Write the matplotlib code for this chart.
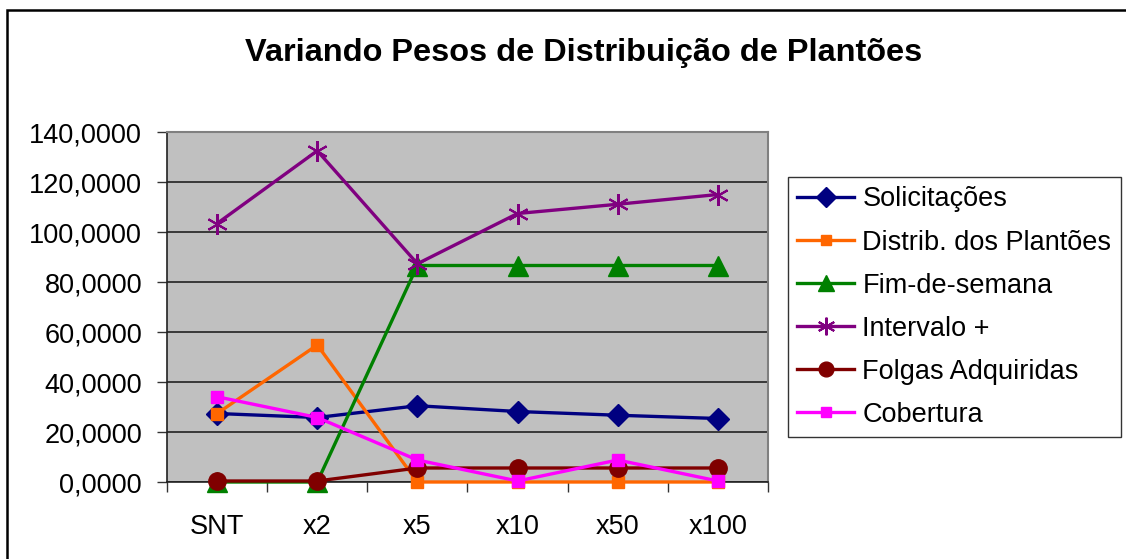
import matplotlib
matplotlib.use('Agg')
from matplotlib import pyplot as plt
from matplotlib.patches import Rectangle
from matplotlib.ticker import FuncFormatter, FixedLocator

plt.rcParams['font.family'] = ['Liberation Sans', 'DejaVu Sans']

# Data
categories = ['SNT', 'x2', 'x5', 'x10', 'x50', 'x100']
solicitacoes = [27.4, 25.8, 30.5, 28.2, 26.7, 25.4]
distrib = [27.4, 54.8, 0.0, 0.0, 0.0, 0.0]
fim_semana = [0.0, 0.0, 86.6, 86.6, 86.6, 86.6]
intervalo = [103.4, 132.5, 87.3, 107.4, 111.1, 115.0]
folgas = [0.4, 0.4, 5.6, 5.6, 5.6, 5.6]
cobertura = [34.1, 25.8, 8.8, 0.4, 8.8, 0.4]

series = [
    ('Solicitações', solicitacoes, '#000080', 'D', 11.5),
    ('Distrib. dos Plantões', distrib, '#FF6600', 's', 8.3),
    ('Fim-de-semana', fim_semana, '#008000', '^', 14),
    ('Intervalo +', intervalo, '#800080', (6, 2, 0), 15),
    ('Folgas Adquiridas', folgas, '#800000', 'o', 12.5),
    ('Cobertura', cobertura, '#FF00FF', 's', 8.3),
]

fig = plt.figure(figsize=(11.26, 5.59), dpi=100)
ax = fig.add_axes([167/1126, 1 - 482/559, 601/1126, 350/559])
ax.set_facecolor('#C0C0C0')

x = list(range(len(categories)))
for name, vals, col, mk, ms in series:
    mew = 1.5 if isinstance(mk, tuple) else 1
    ax.plot(x, vals, color=col, lw=2.4, marker=mk, markersize=ms,
            markerfacecolor=col, markeredgecolor=col, markeredgewidth=mew,
            label=name, clip_on=False, zorder=3)

ax.set_xlim(-0.5, 5.5)
ax.set_ylim(0, 140)
ax.set_yticks(range(0, 141, 20))
ax.yaxis.set_major_formatter(FuncFormatter(lambda v, p: f'{v:.4f}'.replace('.', ',')))
ax.yaxis.grid(True, color='#222222', lw=1.2)
ax.set_axisbelow(True)

ax.xaxis.set_major_locator(FixedLocator([i - 0.5 for i in range(7)]))
ax.xaxis.set_minor_locator(FixedLocator(x))
ax.set_xticklabels([])
ax.set_xticklabels(categories, minor=True)
ax.tick_params(axis='x', which='major', direction='out', length=7, width=1, color='#333333')
ax.tick_params(axis='x', which='minor', length=0, pad=23, labelsize=19.5)
ax.tick_params(axis='y', direction='out', length=7, width=1, pad=11, labelsize=19.5, color='#333333')

for s in ['top', 'right']:
    ax.spines[s].set_color('#808080')
    ax.spines[s].set_linewidth(1.5)
for s in ['left', 'bottom']:
    ax.spines[s].set_color('#222222')
    ax.spines[s].set_linewidth(1.2)

fig.text(584/1126, 1 - 53/559, 'Variando Pesos de Distribuição de Plantões',
         ha='center', va='center', fontsize=23.4, fontweight='bold')

leg = fig.legend(loc='upper left', bbox_to_anchor=(788/1126, 1 - 177/559),
                 fontsize=19.5, frameon=True, fancybox=False, borderaxespad=0,
                 handlelength=2.1, handletextpad=0.3, labelspacing=0.63,
                 borderpad=0.35, edgecolor='black', markerscale=0.85)
leg.get_frame().set_linewidth(1.0)

# outer chart border
fig.patches.append(Rectangle((7/1126, -0.1), 1.2, 1.1 - 10/559, fill=False,
                             edgecolor='black', lw=1.8, transform=fig.transFigure))

fig.savefig('out.png', dpi=100)
